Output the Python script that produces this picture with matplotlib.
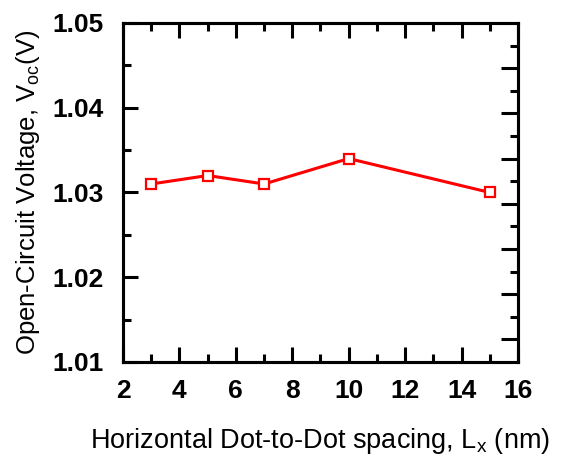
import matplotlib
matplotlib.use("Agg")
import matplotlib.pyplot as plt
from matplotlib.ticker import MultipleLocator, FixedLocator, NullFormatter

plt.rcParams['font.family'] = ['Liberation Sans', 'DejaVu Sans']
plt.rcParams['mathtext.default'] = 'regular'

# Open-circuit voltage vs. horizontal dot spacing
spacing_nm = [3, 5, 7, 10, 15]
voc_v = [1.031, 1.032, 1.031, 1.034, 1.030]

x_ticks = [2, 4, 6, 8, 10, 12, 14, 16]
y_ticks = [1.01, 1.02, 1.03, 1.04, 1.05]

fig = plt.figure(figsize=(5.65, 4.61), dpi=100)
ax = fig.add_axes([0.2177, 0.2148, 0.6991, 0.7354])

ax.plot(spacing_nm, voc_v, color='#ff0000', lw=2.2, marker='s', ms=7.5,
        mfc='white', mec='#ff0000', mew=1.6, zorder=3)

ax.set_xlim(2, 16)
ax.set_ylim(1.01, 1.05)
ax.set_xticks(x_ticks)
ax.set_yticks(y_ticks)
ax.set_xticklabels([str(v) for v in x_ticks])
ax.set_yticklabels([f"{v:.2f}" for v in y_ticks])
ax.xaxis.set_minor_locator(MultipleLocator(1))
ax.yaxis.set_minor_locator(MultipleLocator(0.005))

for lbl in ax.get_xticklabels() + ax.get_yticklabels():
    lbl.set_fontweight('bold')
    lbl.set_fontsize(19)

ax.tick_params(which='both', direction='in', top=True, right=False,
               width=2.2, color='black')
ax.tick_params(which='major', length=11)
ax.tick_params(which='minor', length=5.5)
ax.tick_params(axis='y', which='major', pad=14)
ax.tick_params(axis='x', which='major', pad=12)

for sp in ax.spines.values():
    sp.set_linewidth(2.2)

# right-hand frame axis with its own tick spacing
ax2 = ax.twinx()
ax2.set_ylim(0, 15)
ax2.yaxis.set_major_locator(FixedLocator([1, 3, 5, 7, 9, 11, 13]))
ax2.yaxis.set_minor_locator(FixedLocator([2, 4, 6, 8, 10, 12, 14]))
ax2.yaxis.set_major_formatter(NullFormatter())
ax2.tick_params(which='both', direction='in', width=2.2, color='black')
ax2.tick_params(which='major', length=12)
ax2.tick_params(which='minor', length=6)
for sp in ax2.spines.values():
    sp.set_linewidth(2.2)

ax.set_ylabel(r'Open-Circuit Voltage, V$_{oc}$(V)', fontsize=18.5, labelpad=7)
ax.set_xlabel(r'Horizontal Dot-to-Dot spacing, L$_{x}$ (nm)', fontsize=19.5, labelpad=17)

fig.savefig('out.png', dpi=100, facecolor='white')
